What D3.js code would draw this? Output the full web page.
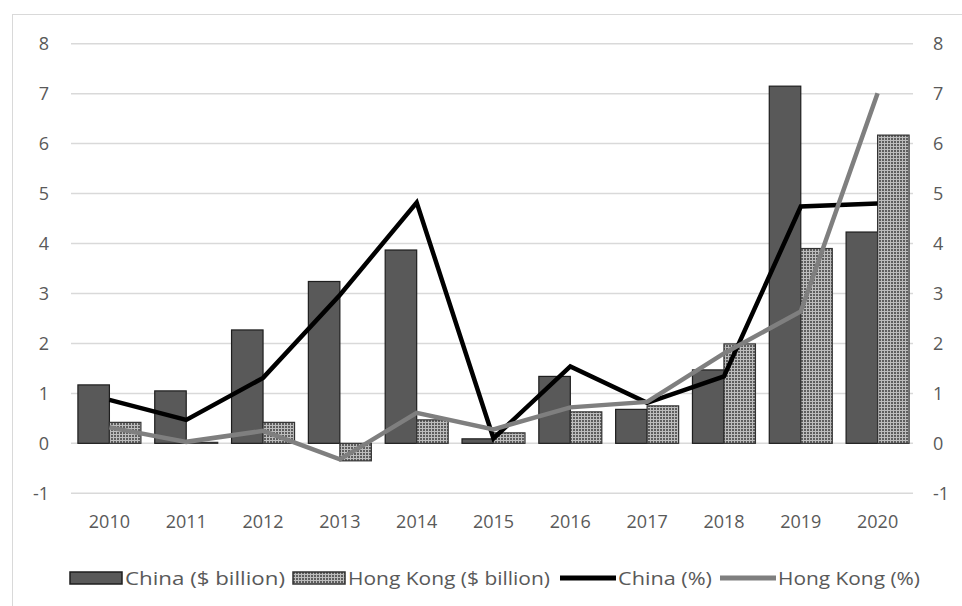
<!DOCTYPE html>
<html><head><meta charset="utf-8">
<script src="https://cdn.jsdelivr.net/npm/d3@7"></script>
<style>body{margin:0;background:#fff}svg{display:block}text{font-family:"Open Sans","Noto Sans",sans-serif;fill:#595959}</style>
</head><body><svg id="c" width="962" height="606"></svg>
<script>
const years = ["2010","2011","2012","2013","2014","2015","2016","2017","2018","2019","2020"];
const chinaBn = [1.17,1.05,2.27,3.24,3.87,0.09,1.34,0.68,1.47,7.15,4.23];
const hkBn = [0.42,0.02,0.42,-0.35,0.47,0.21,0.63,0.75,1.99,3.9,6.17];
const chinaPct = [0.87,0.47,1.31,2.97,4.82,0.1,1.54,0.81,1.34,4.74,4.8];
const hkPct = [0.32,0.03,0.25,-0.32,0.61,0.28,0.72,0.83,1.8,2.64,7.01];
const yTicks = [-1,0,1,2,3,4,5,6,7,8];
const legendLabels = ["China ($ billion)","Hong Kong ($ billion)","China (%)","Hong Kong (%)"];

const svg = d3.select("#c");
const defs = svg.append("defs");
const pat = defs.append("pattern").attr("id","dots").attr("patternUnits","userSpaceOnUse").attr("width",3).attr("height",3);
pat.append("rect").attr("width",3).attr("height",3).attr("fill","#bdbdbd");
pat.append("rect").attr("width",2).attr("height",2).attr("fill","#5e5e5e");

svg.append("rect").attr("x",12.5).attr("y",14.5).attr("width",960).attr("height",600).attr("fill","none").attr("stroke","#d9d9d9");

const x0 = d3.scaleBand().domain(years).range([71,916]).paddingInner(0.18).paddingOuter(0.09);
const x1 = d3.scaleBand().domain(["c","h"]).range([0,x0.bandwidth()]);
const y = d3.scaleLinear().domain([-1,8]).range([493.3,43.7]);

// gridlines
svg.append("g").selectAll("line").data(yTicks).join("line")
  .attr("x1",71).attr("x2",913).attr("y1",d=>y(d)).attr("y2",d=>y(d))
  .attr("stroke","#d9d9d9").attr("stroke-width",1.5);

// axes
const fmt = d=>String(d);
const left = svg.append("g").attr("transform","translate(71,0)").call(d3.axisLeft(y).tickValues(yTicks).tickFormat(fmt).tickSize(0).tickPadding(22));
const right = svg.append("g").attr("transform","translate(913,0)").call(d3.axisRight(y).tickValues(yTicks).tickFormat(fmt).tickSize(0).tickPadding(20));
const bottom = svg.append("g").attr("transform","translate(0,514)").call(d3.axisBottom(x0).tickSize(0).tickPadding(1));
[left,right,bottom].forEach(g=>{g.select(".domain").remove();g.selectAll("text").style("font-size","18px").attr("fill","#595959");});

// bars
const g = svg.append("g");
g.selectAll(".cb").data(chinaBn).join("rect")
  .attr("x",(d,i)=>x0(years[i])+x1("c")).attr("width",x1.bandwidth())
  .attr("y",d=>y(Math.max(0,d))).attr("height",d=>Math.abs(y(d)-y(0)))
  .attr("fill","#595959").attr("stroke","#1e1e1e").attr("stroke-width",1.2);
g.selectAll(".hb").data(hkBn).join("rect")
  .attr("x",(d,i)=>x0(years[i])+x1("h")).attr("width",x1.bandwidth())
  .attr("y",d=>y(Math.max(0,d))).attr("height",d=>Math.abs(y(d)-y(0)))
  .attr("fill","url(#dots)").attr("stroke","#333").attr("stroke-width",1.2);

// lines
const cx = i=>x0(years[i])+x0.bandwidth()/2;
const line = d3.line().x((d,i)=>cx(i)).y(d=>y(d));
svg.append("path").datum(chinaPct).attr("d",line).attr("fill","none").attr("stroke","#000").attr("stroke-width",4.5).attr("stroke-linejoin","miter");
svg.append("path").datum(hkPct).attr("d",line).attr("fill","none").attr("stroke","#7f7f7f").attr("stroke-width",4.5);

// legend
const leg = svg.append("g").attr("transform","translate(0,578)");
const itemX = [70,293,560,720];
const textW = [160,202,94,142];
legendLabels.forEach((lab,i)=>{
  const gx = leg.append("g").attr("transform",`translate(${itemX[i]},0)`);
  if(i<2){
    gx.append("rect").attr("x",0).attr("y",-6).attr("width",52).attr("height",12)
      .attr("fill",i==0?"#595959":"url(#dots)").attr("stroke",i==0?"#1e1e1e":"#333").attr("stroke-width",1.5);
  } else {
    gx.append("line").attr("x1",0).attr("x2",56).attr("y1",0).attr("y2",0)
      .attr("stroke",i==2?"#000":"#7f7f7f").attr("stroke-width",5);
  }
  gx.append("text").attr("x",i<2?55:58).attr("y",0).attr("dy","0.35em").style("font-size","19px")
    .attr("textLength",textW[i]).attr("lengthAdjust","spacingAndGlyphs").text(lab);
});
</script></body></html>
